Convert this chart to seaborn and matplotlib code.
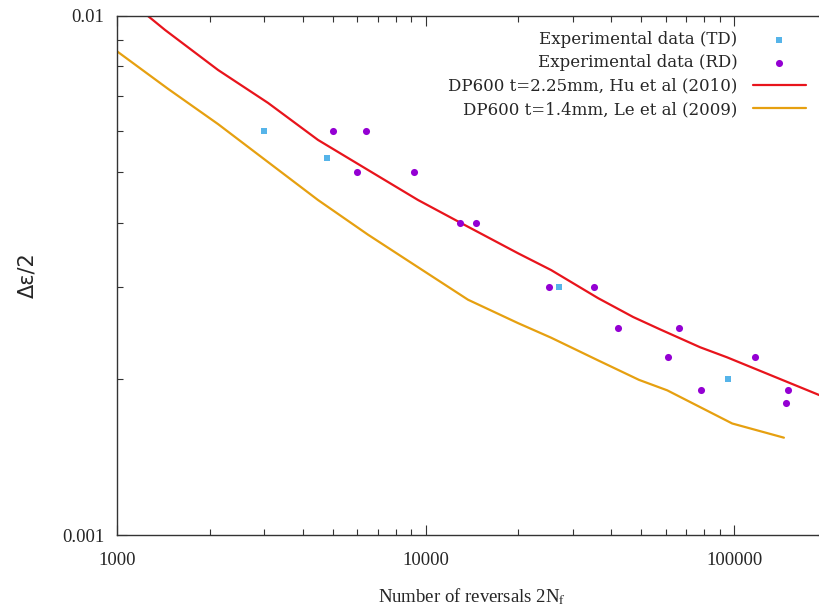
import numpy as np
import pandas as pd
import seaborn as sns
import matplotlib
matplotlib.use("Agg")
import matplotlib.pyplot as plt
from matplotlib.ticker import LogLocator, NullFormatter, FixedLocator, FixedFormatter

# ---- data ----
td_x = [3000, 4800, 27100, 95700]
td_y = [0.0060, 0.00532, 0.0030, 0.0020]

rd_x = [5000, 6400, 6000, 9200, 12950, 14600, 25100, 35200, 42100, 66400,
        61100, 117000, 78200, 149600, 147600]
rd_y = [0.0060, 0.0060, 0.0050, 0.0050, 0.0040, 0.0040, 0.0030, 0.0030, 0.0025, 0.0025,
        0.0022, 0.0022, 0.0019, 0.0019, 0.0018]

hu_x = [1260, 1431, 2126, 3087, 4482, 6509, 9456, 13040, 19940, 25510, 36240,
        47100, 57550, 77600, 94800, 189000, 200000]
hu_y = [0.0100, 0.00940, 0.00787, 0.00680, 0.00577, 0.00505, 0.00442, 0.00399,
        0.00349, 0.00324, 0.00286, 0.00263, 0.00249, 0.00230, 0.00220, 0.00186, 0.00183]

le_x = [1000, 1463, 2126, 3087, 4482, 6509, 9456, 13730, 19940, 25510, 36240,
        49200, 60700, 98600, 145000]
le_y = [0.00855, 0.00724, 0.00619, 0.00523, 0.00442, 0.00379, 0.00328, 0.00284,
        0.00256, 0.00240, 0.00217, 0.00199, 0.00190, 0.00164, 0.00154]

labels = ["Experimental data (TD)", "Experimental data (RD)",
          "DP600 t=2.25mm, Hu et al (2010)", "DP600 t=1.4mm, Le et al (2009)"]
x_ticks = [1000, 10000, 100000]
x_ticklabels = ["1000", "10000", "100000"]
y_ticks = [0.001, 0.01]
y_ticklabels = ["0.001", "0.01"]

c_td = "#56b4e9"
c_rd = "#9400d3"
c_hu = "#e8141c"
c_le = "#e6a010"

sns.set_style("ticks")
plt.rcParams["font.family"] = ["Liberation Serif", "DejaVu Serif"]
plt.rcParams["mathtext.fontset"] = "stix"

fig = plt.figure(figsize=(8.19, 6.13), dpi=100)
W, H = 819, 613
left, right, top, bottom = 117, 827, 16, 535
ax = fig.add_axes([left / W, 1 - bottom / H, (right - left) / W, (bottom - top) / H])

df_hu = pd.DataFrame({"x": hu_x, "y": hu_y})
df_le = pd.DataFrame({"x": le_x, "y": le_y})
df_td = pd.DataFrame({"x": td_x, "y": td_y})
df_rd = pd.DataFrame({"x": rd_x, "y": rd_y})

sns.scatterplot(data=df_td, x="x", y="y", ax=ax, color=c_td, marker="s", s=16,
                linewidth=0, label=labels[0], zorder=3)
sns.scatterplot(data=df_rd, x="x", y="y", ax=ax, color=c_rd, marker="o", s=26,
                linewidth=0, label=labels[1], zorder=3)
sns.lineplot(data=df_hu, x="x", y="y", ax=ax, color=c_hu, linewidth=1.6,
             label=labels[2], sort=False, estimator=None)
sns.lineplot(data=df_le, x="x", y="y", ax=ax, color=c_le, linewidth=1.6,
             label=labels[3], sort=False, estimator=None)

ax.set_xscale("log")
ax.set_yscale("log")
ax.set_xlim(1000, 200000)
ax.set_ylim(0.001, 0.01)

ax.xaxis.set_major_locator(FixedLocator(x_ticks))
ax.xaxis.set_major_formatter(FixedFormatter(x_ticklabels))
ax.xaxis.set_minor_locator(LogLocator(base=10, subs=np.arange(2, 10)))
ax.xaxis.set_minor_formatter(NullFormatter())
ax.yaxis.set_major_locator(FixedLocator(y_ticks))
ax.yaxis.set_major_formatter(FixedFormatter(y_ticklabels))
ax.yaxis.set_minor_locator(LogLocator(base=10, subs=np.arange(2, 10)))
ax.yaxis.set_minor_formatter(NullFormatter())

ax.tick_params(which="both", direction="in", top=True, right=True, color="#333333",
               width=0.8)
ax.tick_params(which="major", length=7)
ax.tick_params(which="minor", length=4)
ax.tick_params(axis="x", which="major", pad=12, labelsize=13.5)
ax.tick_params(axis="y", which="major", pad=9, labelsize=13.5)
for sp in ax.spines.values():
    sp.set_color("#333333")
    sp.set_linewidth(1.0)

ax.set_xlabel(r"Number of reversals 2N$_{\rm f}$", fontsize=13.5,
              family=["Liberation Serif"], labelpad=13)
ax.set_ylabel("Δε/2", fontsize=15, family=["DejaVu Sans"], labelpad=18)

leg = ax.legend(loc="upper right", bbox_to_anchor=(806 / W, 1 - 31 / H),
                bbox_transform=fig.transFigure, frameon=False, markerfirst=False,
                prop={"family": "DejaVu Serif", "size": 12}, handlelength=3.2,
                handletextpad=0.9, labelspacing=0.38, borderpad=0, borderaxespad=0,
                markerscale=1.0)

fig.savefig("out.png", dpi=100)
